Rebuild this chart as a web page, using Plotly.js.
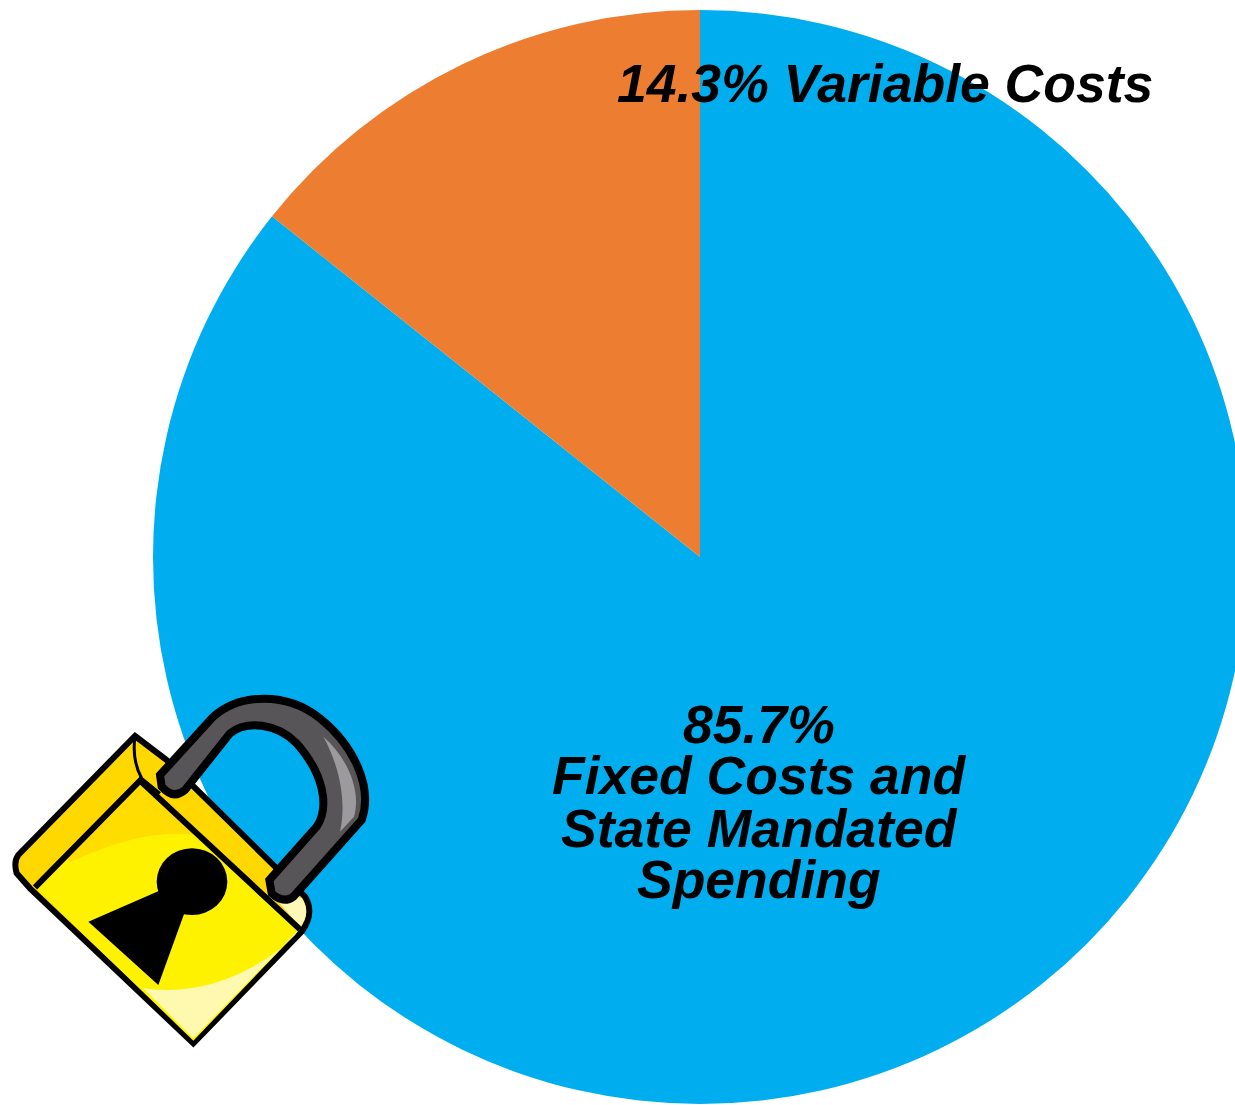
<!DOCTYPE html>
<html><head><meta charset="utf-8">
<script src="https://cdn.plot.ly/plotly-3.0.1.min.js"></script>
<style>html,body{margin:0;padding:0;overflow:hidden;background:#fff}</style>
</head><body><div id="chart"></div>
<script>
const categories = ["Fixed Costs and State Mandated Spending", "Variable Costs"];
const shares = [85.7, 14.3];
const sliceColors = ["#00AEEF", "#ED7D31"];
const variableLabel = "14.3% Variable Costs";
const fixedLabelLines = ["85.7%", "Fixed Costs and", "State Mandated", "Spending"];

const W = 1260, H = 1105;
const px = x => x / W, py = y => 1 - y / H;
const zx = x => x / 3, zy = y => 680 + y / 3;
// Converts a path written in padlock-drawing coordinates to paper coordinates
const lockPath = s => s.replace(/(-?[\d.]+) (-?[\d.]+)/g, (m, a, b) => px(zx(+a)).toFixed(5) + ' ' + py(zy(+b)).toFixed(5));
const lockShape = (d, fill, lw) => ({type: 'path', xref: 'paper', yref: 'paper', layer: 'above', path: lockPath(d),
  fillcolor: fill, line: {color: '#000', width: lw === undefined ? 4 : lw}});
const noLine = (d, fill) => ({type: 'path', xref: 'paper', yref: 'paper', layer: 'above', path: lockPath(d),
  fillcolor: fill, line: {width: 0}});

const shapes = [
  // whole body silhouette
  lockShape('M 405 168 L 500 240 L 815 550 L 915 650 Q 945 700 905 755 L 580 1090 L 90 625 L 50 580 Q 40 545 55 525 Z', '#FFD800', 6),
  // front face
  noLine('M 105 622 L 420 302 L 900 748 L 580 1082 Z', '#FFF200'),
  noLine('M 420 308 L 590 465 C 480 450 350 480 215 545 L 190 535 Z', '#FFDD00'),
  noLine('M 430 925 C 600 950 770 880 885 765 L 895 750 L 580 1075 Z', '#FFF9B0'),
  // top band highlight at the right end
  noLine('M 800 625 L 905 655 Q 935 700 900 740 Z', '#FFF7B8'),
  // face outline, open on the lower edges so the silhouette shows there
  lockShape('M 105 622 L 420 302 L 900 748', 'rgba(0,0,0,0)', 6),
  // rolled edge of the left corner
  lockShape('M 405 170 Q 395 240 425 295 L 480 340', 'rgba(0,0,0,0)', 3),
  // keyhole
  lockShape('M 265 725 L 495 625 L 560 680 L 475 915 Z', '#000', 0),
  {type: 'circle', xref: 'paper', yref: 'paper', layer: 'above', x0: px(zx(470)), x1: px(zx(682)), y0: py(zy(505)), y1: py(zy(705)),
   fillcolor: '#000', line: {width: 0}},
  // shackle
  lockShape('M 480 285 L 640 110 C 720 40 860 35 960 115 C 1060 195 1120 320 1085 420 L 880 650 Q 850 672 815 640 L 808 600 L 950 440 C 990 380 970 280 890 190 C 830 130 740 120 690 160 L 555 330 Q 520 360 485 320 Z', '#585558', 8),
  noLine('M 970 170 C 1040 230 1085 330 1062 410 L 1020 455 C 1040 370 1020 260 970 170 Z', '#9C9A9C')
];

const labelFont = {family: '"Liberation Sans", Arial, sans-serif', size: 53.5, color: '#000', weight: 700, style: 'italic'};
const centreY = [724, 776, 828, 880];
const annotations = [
  {text: variableLabel, x: px(885), y: py(84), xref: 'paper', yref: 'paper', showarrow: false, xanchor: 'center', yanchor: 'middle', font: labelFont}
].concat(fixedLabelLines.map((t, i) => ({text: t, x: px(759), y: py(centreY[i]), xref: 'paper', yref: 'paper',
  showarrow: false, xanchor: 'center', yanchor: 'middle', font: labelFont})));

Plotly.newPlot('chart', [{
  type: 'pie', labels: categories, values: shares, sort: false, direction: 'clockwise', rotation: 0,
  marker: {colors: sliceColors, line: {width: 0}}, textinfo: 'none', hoverinfo: 'label+percent',
  domain: {x: [153 / W, 1247 / W], y: [1 / H, 1095 / H]}
}], {
  width: W, height: H, margin: {l: 0, r: 0, t: 0, b: 0}, showlegend: false,
  paper_bgcolor: '#fff', plot_bgcolor: '#fff', shapes, annotations
}, {displayModeBar: false});
</script></body></html>
